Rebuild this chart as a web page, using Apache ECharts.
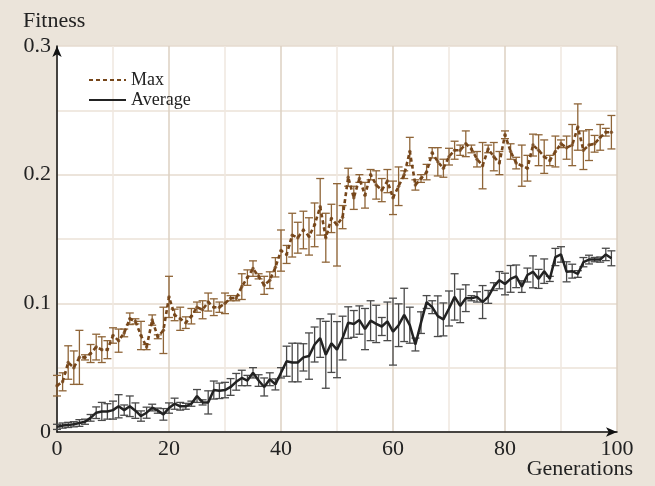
<!DOCTYPE html>
<html lang="en">
<head>
    <meta charset="UTF-8">
    <title>Fitness</title>
    <script src="https://cdn.jsdelivr.net/npm/echarts@6/dist/echarts.min.js"></script>
    <style>
        html, body { margin: 0; padding: 0; background: #ebe4da; }
        #main { width: 655px; height: 486px; }
    </style>
</head>
<body>
<div id="main"></div>
<script>
    // values, one per generation (0..99)
    var maxVals = [
        0.036, 0.039, 0.054, 0.050, 0.058, 0.058, 0.061, 0.066, 0.064, 0.064,
        0.075, 0.071, 0.077, 0.088, 0.086, 0.075, 0.066, 0.087, 0.074, 0.079,
        0.105, 0.091, 0.088, 0.085, 0.090, 0.097, 0.095, 0.101, 0.097, 0.097,
        0.100, 0.104, 0.104, 0.113, 0.120, 0.127, 0.121, 0.114, 0.118, 0.128,
        0.141, 0.138, 0.153, 0.151, 0.157, 0.152, 0.161, 0.175, 0.151, 0.166,
        0.161, 0.167, 0.198, 0.182, 0.197, 0.184, 0.200, 0.192, 0.188, 0.195,
        0.182, 0.191, 0.200, 0.218, 0.192, 0.197, 0.202, 0.217, 0.210, 0.205,
        0.214, 0.219, 0.219, 0.224, 0.220, 0.212, 0.207, 0.220, 0.214, 0.209,
        0.231, 0.218, 0.209, 0.207, 0.205, 0.223, 0.219, 0.214, 0.211, 0.218,
        0.224, 0.221, 0.223, 0.237, 0.219, 0.223, 0.224, 0.229, 0.233, 0.233
    ];
    var maxErr = [
        0.008, 0.007, 0.013, 0.013, 0.021, 0.002, 0.007, 0.010, 0.010, 0.007,
        0.006, 0.009, 0.003, 0.0045, 0.002, 0.011, 0.002, 0.004, 0.0015, 0.018,
        0.016, 0.0045, 0.009, 0.0045, 0.006, 0.004, 0.007, 0.007, 0.0065, 0.004,
        0.008, 0.002, 0.002, 0.010, 0.006, 0.006, 0.002, 0.007, 0.0065, 0.0075,
        0.016, 0.007, 0.017, 0.012, 0.0146, 0.0145, 0.017, 0.022, 0.019, 0.011,
        0.032, 0.009, 0.007, 0.009, 0.003, 0.010, 0.004, 0.011, 0.009, 0.009,
        0.013, 0.015, 0.003, 0.011, 0.004, 0.003, 0.006, 0.004, 0.011, 0.007,
        0.0065, 0.007, 0.004, 0.010, 0.003, 0.006, 0.018, 0.003, 0.011, 0.009,
        0.003, 0.006, 0.0045, 0.016, 0.010, 0.0085, 0.012, 0.013, 0.004, 0.012,
        0.003, 0.009, 0.016, 0.018, 0.015, 0.012, 0.0065, 0.010, 0.003, 0.013
    ];
    var avgVals = [
        0.004, 0.005, 0.0055, 0.006, 0.007, 0.008, 0.011, 0.015, 0.016, 0.016,
        0.017, 0.020, 0.017, 0.020, 0.0166, 0.0124, 0.015, 0.019, 0.0166, 0.0137,
        0.0186, 0.022, 0.020, 0.020, 0.022, 0.028, 0.023, 0.023, 0.0326, 0.032,
        0.0326, 0.035, 0.039, 0.042, 0.040, 0.046, 0.040, 0.035, 0.041, 0.037,
        0.046, 0.055, 0.054, 0.054, 0.058, 0.059, 0.068, 0.073, 0.060, 0.069,
        0.064, 0.073, 0.085, 0.084, 0.087, 0.080, 0.0865, 0.084, 0.082, 0.086,
        0.078, 0.083, 0.091, 0.083, 0.068, 0.085, 0.101, 0.097, 0.090, 0.0875,
        0.096, 0.105, 0.098, 0.104, 0.104, 0.105, 0.101, 0.105, 0.113, 0.118,
        0.115, 0.119, 0.121, 0.113, 0.122, 0.1245, 0.119, 0.125, 0.119, 0.136,
        0.138, 0.1245, 0.125, 0.1228, 0.132, 0.134, 0.134, 0.134, 0.138, 0.135
    ];
    var avgErr = [
        0.002, 0.002, 0.002, 0.002, 0.0026, 0.002, 0.0026, 0.0045, 0.007, 0.006,
        0.007, 0.009, 0.004, 0.008, 0.006, 0.004, 0.0043, 0.0026, 0.002, 0.0045,
        0.004, 0.0043, 0.003, 0.0023, 0.002, 0.005, 0.002, 0.009, 0.007, 0.006,
        0.006, 0.0065, 0.0065, 0.006, 0.004, 0.004, 0.0045, 0.007, 0.005, 0.0043,
        0.004, 0.0117, 0.015, 0.015, 0.0106, 0.018, 0.0136, 0.015, 0.026, 0.0227,
        0.0218, 0.017, 0.0123, 0.0104, 0.011, 0.016, 0.0155, 0.0145, 0.007, 0.015,
        0.026, 0.0166, 0.0207, 0.014, 0.005, 0.0084, 0.005, 0.005, 0.0158, 0.0128,
        0.0136, 0.018, 0.013, 0.0104, 0.002, 0.004, 0.0128, 0.005, 0.003, 0.0067,
        0.0084, 0.0104, 0.0088, 0.0045, 0.0054, 0.0124, 0.0074, 0.0095, 0.002, 0.0067,
        0.006, 0.0078, 0.0054, 0.0026, 0.0036, 0.0034, 0.0017, 0.002, 0.0048, 0.0058
    ];
    var xTicks = [0, 20, 40, 60, 80, 100];
    var yTicks = [0, 0.1, 0.2, 0.3];

    var font = '"Liberation Serif", "DejaVu Serif", serif';
    var brown = '#76461a';
    var brownBar = '#8f6538';
    var dark = '#222222';
    var darkBar = '#4a4a4a';

    function pairs(vals) {
        return vals.map(function (v, i) { return [i, v]; });
    }
    function bars(vals, err) {
        return vals.map(function (v, i) { return [i, v - err[i], v + err[i]]; });
    }

    function errorBar(color) {
        return function (params, api) {
            var x = api.value(0);
            var top = api.coord([x, api.value(2)]);
            var bot = api.coord([x, api.value(1)]);
            var w = 4;
            var st = { stroke: color, lineWidth: 1.3 };
            return {
                type: 'group',
                children: [
                    { type: 'line', shape: { x1: top[0], y1: top[1], x2: bot[0], y2: bot[1] }, style: st },
                    { type: 'line', shape: { x1: top[0] - w, y1: top[1], x2: top[0] + w, y2: top[1] }, style: st },
                    { type: 'line', shape: { x1: bot[0] - w, y1: bot[1], x2: bot[0] + w, y2: bot[1] }, style: st }
                ]
            };
        };
    }

    var myChart = echarts.init(document.getElementById('main'));

    var option = {
        backgroundColor: '#ebe4da',
        animation: false,
        grid: {
            left: 57, right: 38, top: 46, bottom: 54,
            show: true, backgroundColor: '#ffffff', borderWidth: 0
        },
        graphic: [
            { type: 'text', left: 23, top: 10, style: { text: 'Fitness', font: '22px ' + font, fill: '#222' } },
            { type: 'text', right: 22, top: 458, style: { text: 'Generations', font: '22px ' + font, fill: '#222' } }
        ],
        legend: {
            orient: 'vertical',
            left: 83, top: 66,
            itemWidth: 37, itemHeight: 12, itemGap: 2,
            itemStyle: { opacity: 0, color: 'transparent', borderWidth: 0 },
            textStyle: { fontFamily: font, fontSize: 18, color: '#222' },
            data: ['Max', 'Average']
        },
        xAxis: {
            type: 'value', min: 0, max: 100, interval: 20,
            axisLine: { lineStyle: { color: '#111', width: 1.5 }, symbol: ['none', 'arrow'], symbolSize: [7, 11] },
            axisTick: { show: false },
            axisLabel: {
                fontFamily: font, fontSize: 22, color: '#222', margin: 6,
                formatter: function (v) { return xTicks.indexOf(v) >= 0 ? String(v) : ''; }
            },
            splitLine: { lineStyle: { color: '#ddd0c2', width: 1.5 } },
            minorTick: { show: false, splitNumber: 2 },
            minorSplitLine: { show: true, lineStyle: { color: '#efe7df', width: 1.5 } }
        },
        yAxis: {
            type: 'value', min: 0, max: 0.3, interval: 0.1,
            axisLine: { show: true, lineStyle: { color: '#111', width: 1.5 }, symbol: ['none', 'arrow'], symbolSize: [7, 11] },
            axisTick: { show: false },
            axisLabel: {
                fontFamily: font, fontSize: 22, color: '#222', margin: 6,
                formatter: function (v) {
                    for (var i = 0; i < yTicks.length; i++) {
                        if (Math.abs(yTicks[i] - v) < 1e-9) return v === 0 ? '0' : v.toFixed(1);
                    }
                    return '';
                }
            },
            splitLine: { lineStyle: { color: '#e6dbcf', width: 1.5 } },
            minorTick: { show: false, splitNumber: 2 },
            minorSplitLine: { show: true, lineStyle: { color: '#ebe2d8', width: 1.5 } }
        },
        series: [
            {
                name: 'maxErr', type: 'custom', renderItem: errorBar(brownBar),
                encode: { x: 0, y: [1, 2] }, data: bars(maxVals, maxErr), z: 2, silent: true
            },
            {
                name: 'avgErr', type: 'custom', renderItem: errorBar(darkBar),
                encode: { x: 0, y: [1, 2] }, data: bars(avgVals, avgErr), z: 2, silent: true
            },
            {
                name: 'Max', type: 'line', data: pairs(maxVals),
                symbol: 'none', color: brown,
                lineStyle: { color: brown, width: 2.6, type: [4, 3] }, z: 3
            },
            {
                name: 'maxDots', type: 'scatter', data: pairs(maxVals),
                symbolSize: 3.5, itemStyle: { color: brown }, z: 4
            },
            {
                name: 'Average', type: 'line', data: pairs(avgVals),
                symbol: 'none', color: dark,
                lineStyle: { color: dark, width: 2.5 }, z: 3
            }
        ]
    };

    myChart.setOption(option);
</script>
</body>
</html>
